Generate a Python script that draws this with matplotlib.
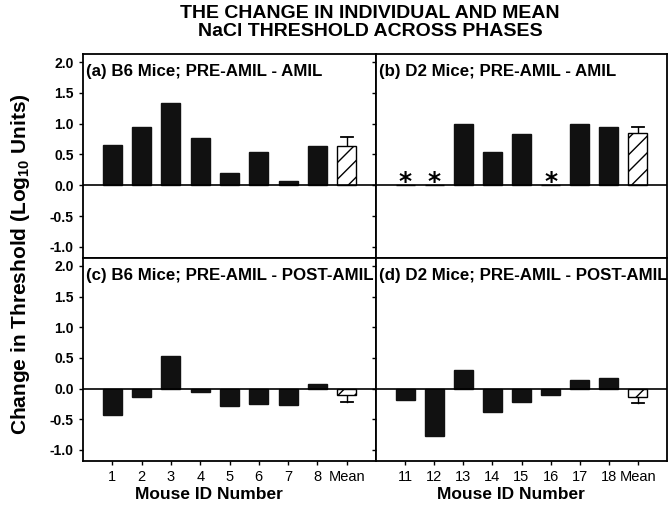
import matplotlib
matplotlib.use("Agg")
import matplotlib.pyplot as plt
from matplotlib import font_manager
import numpy as np

names = {f.name for f in font_manager.fontManager.ttflist}
FAM = "Liberation Sans Narrow" if "Liberation Sans Narrow" in names else "Liberation Sans"
plt.rcParams['font.family'] = [FAM, 'DejaVu Sans']
plt.rcParams['hatch.linewidth'] = 1.0

# Data
b6_ids = ["1", "2", "3", "4", "5", "6", "7", "8", "Mean"]
d2_ids = ["11", "12", "13", "14", "15", "16", "17", "18", "Mean"]

b6_amil = [0.66, 0.95, 1.33, 0.76, 0.20, 0.54, 0.07, 0.63]
b6_amil_mean, b6_amil_err = 0.64, 0.14
d2_amil = [np.nan, np.nan, 1.00, 0.54, 0.84, np.nan, 0.99, 0.95]
d2_amil_mean, d2_amil_err = 0.85, 0.09

b6_post = [-0.43, -0.13, 0.54, -0.05, -0.28, -0.25, -0.27, 0.08]
b6_post_mean, b6_post_err = -0.10, -0.11
d2_post = [-0.19, -0.77, 0.30, -0.38, -0.21, -0.10, 0.14, 0.18]
d2_post_mean, d2_post_err = -0.13, -0.11

panel_titles = ["(a) B6 Mice; PRE-AMIL - AMIL", "(b) D2 Mice; PRE-AMIL - AMIL",
                "(c) B6 Mice; PRE-AMIL - POST-AMIL", "(d) D2 Mice; PRE-AMIL - POST-AMIL"]

fig = plt.figure(figsize=(6.7, 5.05), dpi=100)
L, M, R = 83/670, 376/670, 667/670
T, MID, B = 1-54/505, 1-258/505, 1-461/505
axes = [fig.add_axes([L, MID, M-L, T-MID]), fig.add_axes([M, MID, R-M, T-MID]),
        fig.add_axes([L, B, M-L, MID-B]), fig.add_axes([M, B, R-M, MID-B])]

datasets = [(b6_amil, b6_amil_mean, b6_amil_err, b6_ids),
            (d2_amil, d2_amil_mean, d2_amil_err, d2_ids),
            (b6_post, b6_post_mean, b6_post_err, b6_ids),
            (d2_post, d2_post_mean, d2_post_err, d2_ids)]
xlabel_x = {2: 0.43, 3: 0.465}

w = 0.65
for i, (ax, (vals, mval, merr, ids)) in enumerate(zip(axes, datasets)):
    x = np.arange(1, len(vals) + 1)
    v = np.array(vals, dtype=float)
    ax.bar(x, np.nan_to_num(v), width=w, color='#111111', edgecolor='#111111', zorder=2)
    for xi, vi in zip(x, v):
        if np.isnan(vi):
            ax.text(xi, 0.06, "*", ha='center', va='center', fontsize=18,
                    fontweight='bold', family='DejaVu Sans')
    xm = len(vals) + 1
    ax.bar([xm], [mval], width=w, facecolor='white', edgecolor='black',
           hatch='//', linewidth=1.0, zorder=2)
    ax.plot([xm, xm], [mval, mval + merr], color='black', lw=1.0, zorder=1)
    ax.plot([xm - 0.2, xm + 0.2], [mval + merr] * 2, color='black', lw=1.3, zorder=1)
    ax.axhline(0, color='black', lw=1.2, zorder=3)
    ax.set_xlim(0, 10)
    ax.set_ylim(-1.18, 2.13)
    ax.set_yticks([-1.0, -0.5, 0.0, 0.5, 1.0, 1.5, 2.0])
    ax.set_xticks(np.arange(1, 10))
    ax.tick_params(direction='out', length=3, width=1.0)
    for s in ax.spines.values():
        s.set_linewidth(1.3)
    ax.text(0.01, 0.95, panel_titles[i], transform=ax.transAxes, ha='left', va='top',
            fontsize=12.2, fontweight='bold')
    if i in (0, 2):
        ax.set_yticklabels([f"{t:.1f}" for t in ax.get_yticks()], fontsize=10, fontweight='bold')
    else:
        ax.set_yticklabels([])
    if i >= 2:
        ax.set_xticklabels(ids, fontsize=10.5)
        ax.set_xlabel("Mouse ID Number", fontsize=12.5, fontweight='bold', va='top')
        ax.xaxis.set_label_coords(xlabel_x[i], -0.128)
    else:
        ax.set_xticklabels([])

fig.text(0.03, 0.477, r"Change in Threshold (Log$_{\mathregular{10}}$ Units)", rotation=90,
         ha='center', va='center', fontsize=15, fontweight='bold')
fig.text(0.552, 0.955, "THE CHANGE IN INDIVIDUAL AND MEAN\nNaCl THRESHOLD ACROSS PHASES",
         ha='center', va='center', fontsize=14, fontweight='bold', linespacing=1.1)

fig.savefig("out.png", dpi=100)
